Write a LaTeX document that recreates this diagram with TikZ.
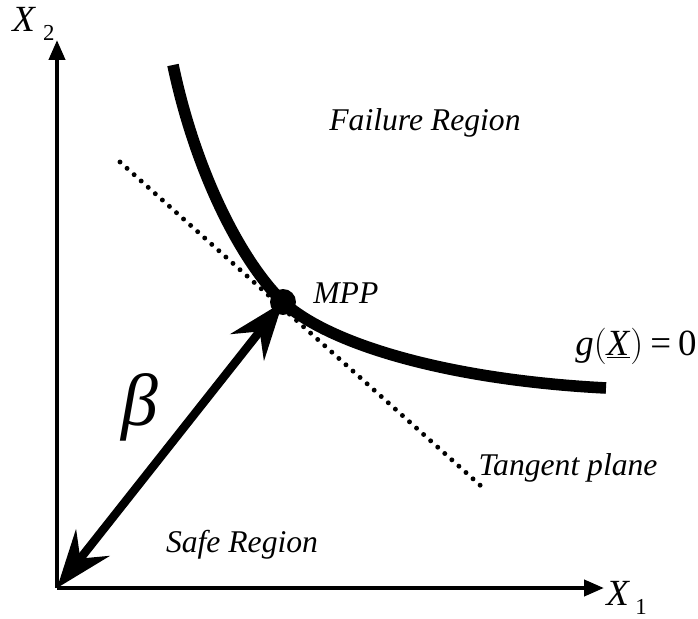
\documentclass[tikz,border=0pt]{standalone}
\usepackage{fontspec}
\setmainfont{LiberationSerif}[Extension=.ttf, UprightFont=*-Regular, ItalicFont=*-Italic, BoldFont=*-Bold, BoldItalicFont=*-BoldItalic]
\usetikzlibrary{arrows.meta}
\begin{document}
\begin{tikzpicture}[x=0.02cm,y=-0.02cm,
  lbl/.style={font=\fontsize{18}{20}\selectfont\itshape, inner sep=0pt},
  axis/.style={line width=2.3pt, -{Triangle[length=0.4cm,width=0.32cm]}},
  curve/.style={line width=6.6pt},
  tangent/.style={line width=2.8pt, line cap=round, dash pattern=on 0pt off 5.4pt},
  betaarrow/.style={line width=4.8pt, {Stealth[length=1.15cm,width=0.85cm,inset=0.4cm]}-{Stealth[length=1.15cm,width=0.85cm,inset=0.4cm]}}
]
\useasboundingbox (0,0) rectangle (698,619);
\coordinate (O) at (57,588);
\coordinate (Ytip) at (57,40);
\coordinate (Xtip) at (604,588);
\draw[axis] (O) -- (Ytip);
\draw[axis] (O) -- (Xtip);
% limit state curve
\coordinate (C0) at (173,65);
\coordinate (C1) at (606,388);
\node[circle, fill=black, minimum size=0.52cm, inner sep=0pt] (mpp) at (283,302) {};
\draw[curve] (C0) .. controls (195,170) and (240,260) .. (mpp.center)
  .. controls (330,345) and (450,380) .. (C1);
% tangent
\coordinate (T0) at (120,162);
\coordinate (T1) at (481,486);
\draw[tangent] (T0) -- (T1);
% beta arrow
\draw[betaarrow] (O) -- (mpp.center);
% labels
\node[font=\fontsize{42}{44}\selectfont\itshape, inner sep=0pt] (beta) at (140,407) {β};
\node[lbl] (fail) at (425,123) {Failure Region};
\node[lbl] (safe) at (242,545) {Safe Region};
\node[lbl, anchor=west] (mpplbl) at (313,293) {MPP};
\node[lbl] (tan) at (568,468) {Tangent plane};
\node[font=\fontsize{21}{22}\selectfont, inner sep=0pt] (glbl) at (636,346) {\textit{g}\Big(\underline{\textit{X}}\Big)\hspace{4pt}=\hspace{4pt}0};
\node[font=\fontsize{21}{22}\selectfont, inner sep=0pt, anchor=west] (x1) at (606,598) {\textit{X}\hspace{3pt}\raisebox{-5pt}{\fontsize{13}{14}\selectfont 1}};
\node[font=\fontsize{21}{22}\selectfont, inner sep=0pt, anchor=west] (x2) at (12,24) {\textit{X}\hspace{4pt}\raisebox{-5pt}{\fontsize{13}{14}\selectfont 2}};
\end{tikzpicture}
\end{document}
